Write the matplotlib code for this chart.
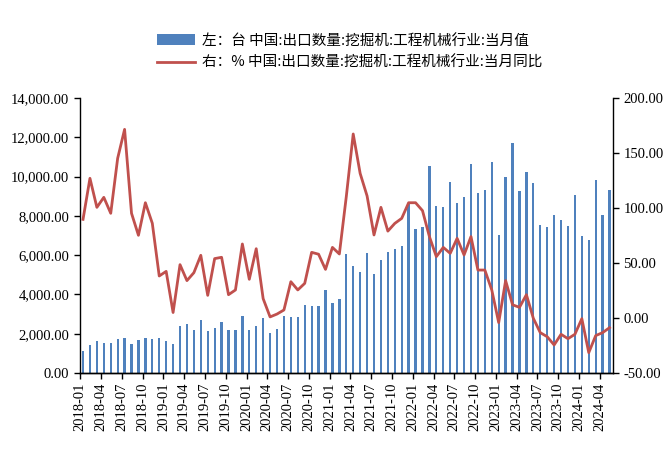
import matplotlib
matplotlib.use("Agg")
import matplotlib.pyplot as plt
from matplotlib.ticker import FuncFormatter
import numpy as np

months = [f"{y}-{m:02d}" for y in range(2018, 2025) for m in range(1, 13)][:77]

units = [1137, 1409, 1612, 1527, 1527, 1731, 1782, 1476, 1680, 1782,
         1731, 1765, 1629, 1476, 2376, 2512, 2172, 2698, 2155, 2274,
         2613, 2172, 2172, 2919, 2189, 2376, 2800, 2053, 2223, 2902,
         2868, 2868, 3445, 3428, 3411, 4226, 3581, 3750, 6058, 5464,
         5142, 6126, 5023, 5736, 6143, 6330, 6449, 8672, 7314, 7433,
         10521, 8485, 8434, 9724, 8672, 8977, 10657, 9147, 9300, 10725,
         7009, 9978, 11692, 9266, 10233, 9673, 7518, 7450, 8027, 7789,
         7467, 9079, 6975, 6771, 9826, 8044, 9334]

yoy = [89.7, 127.0, 100.6, 109.7, 95.2, 145.2, 171.5, 95.2, 75.2, 104.8,
       86.1, 38.2, 42.4, 5.0, 48.5, 34.0, 41.2, 57.0, 20.6, 54.0,
       55.2, 21.2, 25.5, 67.3, 35.2, 63.0, 17.6, 1.0, 3.6, 7.3,
       33.0, 25.5, 31.5, 59.7, 58.0, 44.2, 64.2, 58.2, 110.3, 167.3,
       131.5, 111.0, 75.5, 100.6, 79.0, 86.0, 90.6, 104.8, 104.8, 97.6,
       74.0, 55.8, 64.2, 58.8, 72.4, 57.3, 74.0, 43.6, 43.6, 25.5,
       -4.2, 34.0, 12.0, 9.7, 21.2, -0.3, -13.3, -17.0, -24.5, -14.8,
       -18.8, -14.8, -0.6, -31.5, -16.0, -13.3, -8.8]

label_bar = "左：台 中国:出口数量:挖掘机:工程机械行业:当月值"
label_line = "右：% 中国:出口数量:挖掘机:工程机械行业:当月同比"

plt.rcParams['font.family'] = ['Liberation Serif', 'Noto Sans CJK SC', 'DejaVu Sans']

fig = plt.figure(figsize=(6.63, 4.54), dpi=100)
ax = fig.add_axes([0.120, 0.1784, 0.8046, 0.6057])
ax2 = ax.twinx()

x = np.arange(len(months))
bar_c = "#4F81BD"
line_c = "#C0504D"
b = ax.bar(x, units, width=0.33, color=bar_c, zorder=2)
l, = ax2.plot(x, yoy, color=line_c, linewidth=2.0, zorder=3)

ax.set_xlim(-0.5, len(months) - 0.5)
ax.set_ylim(0, 14000)
ax2.set_ylim(-50, 200)
ax.set_yticks(np.arange(0, 14001, 2000))
ax2.set_yticks(np.arange(-50, 201, 50))
ax.yaxis.set_major_formatter(FuncFormatter(lambda v, p: f"{v:,.2f}"))
ax2.yaxis.set_major_formatter(FuncFormatter(lambda v, p: f"{v:.2f}"))

tick_idx = list(range(0, len(months), 3))
ax.set_xticks([i - 0.4 for i in tick_idx])
ax.set_xticklabels([months[i] for i in tick_idx], rotation=90)

for a in (ax, ax2):
    a.spines['top'].set_visible(False)
    for s in a.spines.values():
        s.set_linewidth(1.0)
        s.set_color('black')
    a.tick_params(direction='out', length=4, width=1.0, labelsize=10.5, colors='black')
ax2.spines['left'].set_visible(False)
ax.spines['right'].set_visible(False)
ax.tick_params(axis='x', pad=3)

fig.legend([b, l], [label_bar, label_line], loc='upper center',
           bbox_to_anchor=(0.527, 0.955), ncol=1, frameon=False,
           handlelength=2.6, handleheight=0.7,
           labelspacing=0.55, handletextpad=0.5,
           prop={'family': ['Noto Sans CJK SC', 'DejaVu Sans'], 'size': 10.5})

fig.savefig("out.png", dpi=100)
